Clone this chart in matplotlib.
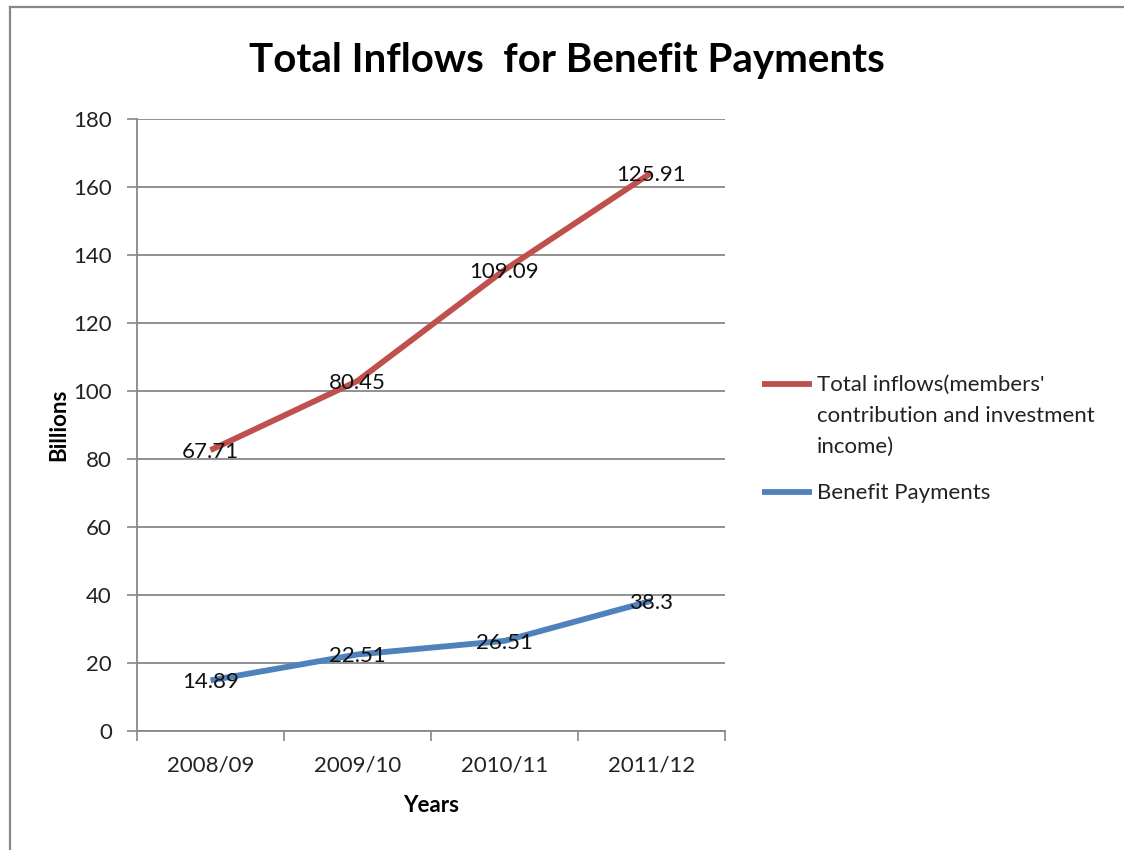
import matplotlib.pyplot as plt
from matplotlib.lines import Line2D
from matplotlib.legend_handler import HandlerLine2D

plt.rcParams['font.family'] = ['Lato', 'DejaVu Sans']

years = ["2008/09", "2009/10", "2010/11", "2011/12"]
benefit = [14.89, 22.51, 26.51, 38.3]
inflows = [67.71, 80.45, 109.09, 125.91]

# stacked line chart: inflows sit on top of benefit payments
stacked = [b + i for b, i in zip(benefit, inflows)]
xs = range(len(years))

LEG_FS = 16
LEG_SPACING = 1.68
ROW_PT = 23  # height of one wrapped legend row, points


class TopLineHandler(HandlerLine2D):
    # put the legend line next to the first row of a wrapped label
    def __init__(self, shift, **kw):
        super().__init__(**kw)
        self.shift = shift

    def create_artists(self, *args, **kw):
        arts = super().create_artists(*args, **kw)
        for a in arts:
            if isinstance(a, Line2D):
                a.set_ydata([y + self.shift for y in a.get_ydata()])
        return arts


fig = plt.figure(figsize=(11.24, 8.5), dpi=100)
ax = fig.add_axes([0.1219, 0.14, 0.5231, 0.72])

# frame: only the top and left edges fall inside the image
fig.add_artist(Line2D([0.009, 1.0], [0.9915, 0.9915], transform=fig.transFigure,
                      color='#888888', linewidth=1.6))
fig.add_artist(Line2D([0.009, 0.009], [0.0, 0.9915], transform=fig.transFigure,
                      color='#888888', linewidth=1.6))

red, = ax.plot(xs, stacked, color='#C0504D', linewidth=4.2, solid_capstyle='butt',
               label="Total inflows(members'\ncontribution and investment\nincome)")
blue, = ax.plot(xs, benefit, color='#4F81BD', linewidth=4.2, solid_capstyle='butt',
                label="Benefit Payments")

for x, y, v in zip(xs, stacked, inflows):
    ax.text(x, y, f"{v:g}", ha='center', va='center_baseline', fontsize=16, color='#111111')
for x, y, v in zip(xs, benefit, benefit):
    ax.text(x, y, f"{v:g}", ha='center', va='center_baseline', fontsize=16, color='#111111')

ax.set_xlim(-0.5, 3.5)
ax.set_ylim(0, 180)
ax.set_yticks(range(0, 181, 20))
ax.set_xticks(list(xs))
ax.set_xticklabels(years)
ax.set_xticks([-0.5, 0.5, 1.5, 2.5, 3.5], minor=True)
ax.tick_params(axis='x', which='major', length=0, pad=18, labelsize=16, labelcolor='#222222')
ax.tick_params(axis='x', which='minor', length=7, color='#888888', width=1.2)
ax.tick_params(axis='y', length=7, color='#888888', width=1.2, pad=11, labelsize=16,
               labelcolor='#222222')
ax.grid(axis='y', color='#888888', linewidth=1.3)
ax.set_axisbelow(True)
for s in ['top', 'right']:
    ax.spines[s].set_visible(False)
for s in ['left', 'bottom']:
    ax.spines[s].set_color('#888888')
    ax.spines[s].set_linewidth(1.3)

ax.set_ylabel("Billions", fontsize=16, fontweight='bold', labelpad=3)
ax.set_xlabel("Years", fontsize=16, fontweight='bold', labelpad=14)
fig.text(0.504, 0.929, "Total Inflows  for Benefit Payments", ha='center', va='center',
         fontsize=29, fontweight='bold')

leg = ax.legend(loc='center left', bbox_to_anchor=(1.063, 0.477), frameon=False,
                fontsize=LEG_FS, handlelength=2.25, handletextpad=0.22, labelspacing=1.2,
                borderpad=0, borderaxespad=0,
                handler_map={red: TopLineHandler(shift=ROW_PT)})
for t in leg.get_texts():
    t.set_linespacing(LEG_SPACING)
    t.set_color('#222222')

fig.savefig('out.png', dpi=100)
